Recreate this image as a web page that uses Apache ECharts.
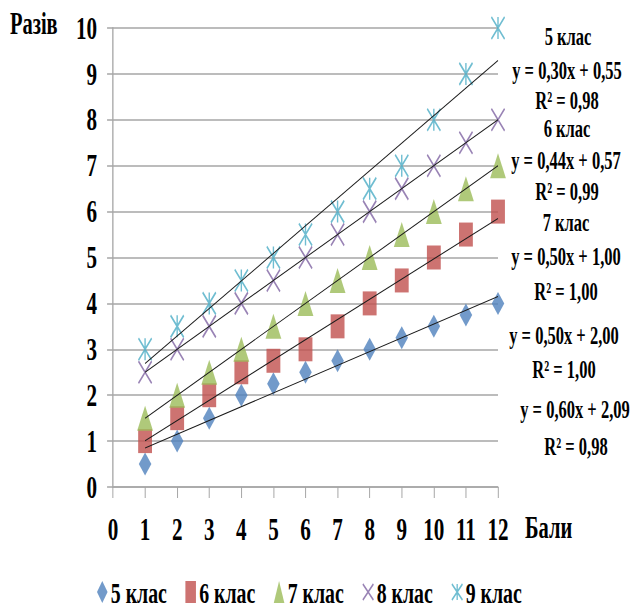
<!DOCTYPE html>
<html>
<head>
<meta charset="utf-8">
<script src="https://cdn.jsdelivr.net/npm/echarts@6/dist/echarts.min.js"></script>
<style>
html, body { margin: 0; padding: 0; overflow: hidden; background: #fff; }
#outer { width: 636px; height: 608px; overflow: hidden; }
#chart { width: 964px; height: 608px; transform: scaleX(0.66); transform-origin: 0 0; }
</style>
</head>
<body>
<div id="outer"><div id="chart"></div></div>
<script>
// ---- data ----
const xValues = [1, 2, 3, 4, 5, 6, 7, 8, 9, 10, 11, 12];
const seriesNames = ['5 клас', '6 клас', '7 клас', '8 клас', '9 клас'];
const klas5 = [0.5, 1, 1.5, 2, 2.25, 2.5, 2.75, 3, 3.25, 3.5, 3.75, 4];
const klas6 = [1, 1.5, 2, 2.5, 2.75, 3, 3.5, 4, 4.5, 5, 5.5, 6];
const klas7 = [1.5, 2, 2.5, 3, 3.5, 4, 4.5, 5, 5.5, 6, 6.5, 7];
const klas8 = [2.5, 3, 3.5, 4, 4.5, 5, 5.5, 6, 6.5, 7, 7.5, 8];
const klas9 = [3, 3.5, 4, 4.5, 5, 5.5, 6, 6.5, 7, 8, 9, 10];
// trendline end points (at x = 1 and x = 12)
const trendX = [1, 12];
const trend5 = [0.85, 4.15];
const trend6 = [1.01, 5.85];
const trend7 = [1.5, 7];
const trend8 = [2.5, 8];
const trend9 = [2.69, 9.29];
// annotation texts
const annotations = [
  '5 клас', 'y = 0,30x + 0,55', 'R² = 0,98',
  '6 клас', 'y = 0,44x + 0,57', 'R² = 0,99',
  '7 клас', 'y = 0,50x + 1,00', 'R² = 1,00',
  'y = 0,50x + 2,00', 'R² = 1,00',
  'y = 0,60x + 2,09', 'R² = 0,98'
];
const yAxisName = 'Разів';
const xAxisName = 'Бали';

// ---- styling / layout ----
const S = 0.66; // horizontal squeeze of the picture
const W = 964;
const FONT = '"Liberation Serif", "Times New Roman", serif';
const annPos = [
  [568, 37], [567, 71], [567, 101],
  [567, 129], [566, 161], [567, 192],
  [566, 223], [566, 257], [566, 292],
  [564, 336], [564, 370],
  [575, 410], [576, 447]
];
const pair = arr => xValues.map((x, i) => [x, arr[i]]);
const tpair = arr => trendX.map((x, i) => [x, arr[i]]);

const chart = echarts.init(document.getElementById('chart'), null, { renderer: 'svg' });

const scatterDefs = [
  { data: klas5, symbol: 'diamond', size: [19, 23], color: '#4F81BD' },
  { data: klas6, symbol: 'rect', size: [21, 24], color: '#C0504D' },
  { data: klas7, symbol: 'triangle', size: [24, 25], color: '#9BBB59' },
  { data: klas8, symbol: 'path://M0,0L10,10M10,0L0,10', size: [20, 22], color: '#8064A2', stroke: true },
  { data: klas9, symbol: 'path://M0,0L10,10M10,0L0,10M5,0L5,10', size: [20, 22], color: '#4BACC6', stroke: true }
];
const trends = [trend5, trend6, trend7, trend8, trend9];

const series = [];
scatterDefs.forEach((d, i) => {
  series.push({
    type: 'scatter',
    name: seriesNames[i],
    data: pair(d.data),
    symbol: d.symbol,
    symbolSize: d.size,
    silent: true,
    z: 2,
    itemStyle: d.stroke
      ? { color: d.color, borderColor: d.color, borderWidth: 2.2 }
      : { color: d.color }
  });
});
trends.forEach((t, i) => {
  series.push({
    type: 'line',
    name: 'trend' + i,
    data: tpair(t),
    symbol: 'none',
    silent: true,
    z: 5,
    lineStyle: { color: '#1a1a1a', width: 1.1 }
  });
});

const graphic = annotations.map((t, i) => ({
  type: 'text',
  x: annPos[i][0] / S,
  y: annPos[i][1],
  silent: true,
  style: {
    text: t,
    font: 'bold 25px ' + FONT,
    lineHeight: 22,
    fill: '#000',
    align: 'center',
    verticalAlign: 'middle'
  }
}));
graphic.push({
  type: 'text', x: 10 / S, y: 24, silent: true,
  style: { text: yAxisName, font: 'bold 31px ' + FONT, fill: '#000', align: 'left', verticalAlign: 'middle' }
});
graphic.push({
  type: 'text', x: 525 / S, y: 528, silent: true,
  style: { text: xAxisName, font: 'bold 31px ' + FONT, fill: '#000', align: 'left', verticalAlign: 'middle' }
});

const gridColor = '#A6A6A6';
chart.setOption({
  animation: false,
  backgroundColor: '#fff',
  grid: { left: 113 / S, right: W - 498 / S, top: 28, bottom: 608 - 487 },
  xAxis: {
    type: 'value', min: 0, max: 12, interval: 1,
    splitLine: { show: false },
    axisLine: { show: true, lineStyle: { color: gridColor, width: 1.5 } },
    axisTick: { show: true, length: 11, lineStyle: { color: gridColor, width: 1.5 } },
    axisLabel: { margin: 26, fontSize: 32, fontWeight: 'bold', fontFamily: FONT, color: '#000' }
  },
  yAxis: {
    type: 'value', min: 0, max: 10, interval: 1,
    splitLine: { show: true, lineStyle: { color: gridColor, width: 1.5 } },
    axisLine: { show: true, lineStyle: { color: gridColor, width: 2 } },
    axisTick: { show: true, length: 9, lineStyle: { color: gridColor, width: 1.5 } },
    axisLabel: { margin: 24, fontSize: 32, fontWeight: 'bold', fontFamily: FONT, color: '#000' }
  },
  legend: {
    data: seriesNames,
    left: 97 / S,
    top: 577,
    padding: 0,
    itemWidth: 16,
    itemHeight: 22,
    itemGap: 28,
    selectedMode: false,
    textStyle: { fontSize: 30, fontWeight: 'bold', fontFamily: FONT, color: '#000' }
  },
  graphic: graphic,
  series: series
});
</script>
</body>
</html>
